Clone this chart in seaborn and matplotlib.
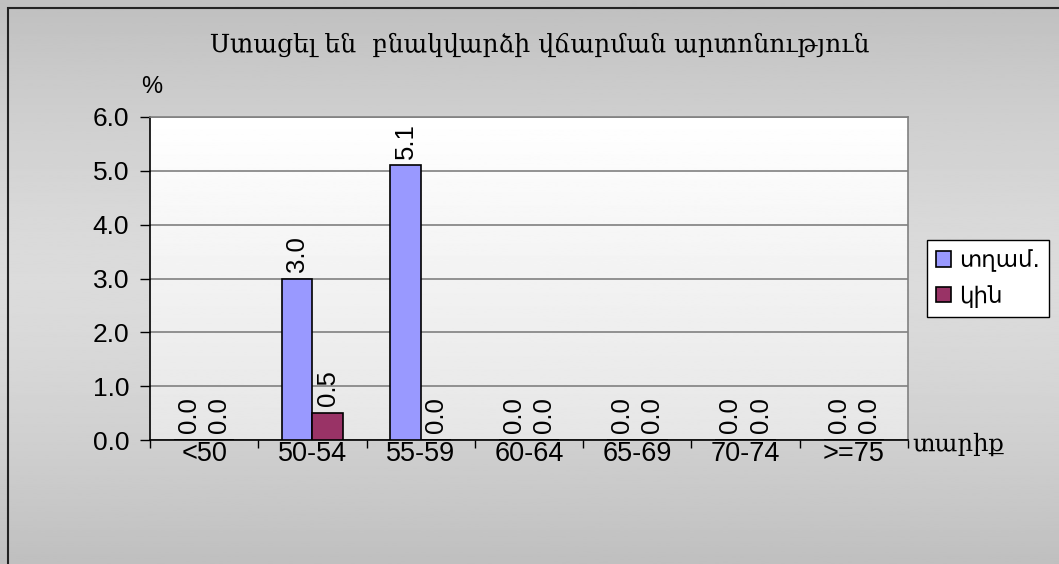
import numpy as np
import pandas as pd
import matplotlib
matplotlib.use("Agg")
import matplotlib.pyplot as plt
from matplotlib.patches import Rectangle
from matplotlib.ticker import FixedLocator, FormatStrFormatter
import seaborn as sns

# data
age_groups = ["<50", "50-54", "55-59", "60-64", "65-69", "70-74", ">=75"]
men = [0.0, 3.0, 5.1, 0.0, 0.0, 0.0, 0.0]
women = [0.0, 0.5, 0.0, 0.0, 0.0, 0.0, 0.0]
series_names = ["տղամ.", "կին"]
series_colors = ["#9999FF", "#993366"]
title = "Ստացել են  բնակվարձի վճարման արտոնություն"

df = pd.DataFrame({
    "age": age_groups * 2,
    "value": men + women,
    "sex": [series_names[0]] * len(men) + [series_names[1]] * len(women),
})

sns.set_style("white")
plt.rcParams["font.family"] = ["Liberation Sans", "DejaVu Sans"]
plt.rcParams["text.color"] = "black"
plt.rcParams["xtick.color"] = "black"
plt.rcParams["ytick.color"] = "black"

fig = plt.figure(figsize=(10.59, 5.64), dpi=100)

# outer gradient background
bg = fig.add_axes([0, 0, 1, 1], zorder=-10)
g = np.abs(np.linspace(-1, 1, 256)) ** 1.5
bg.imshow((0.86 - 0.11 * g)[:, None], cmap="gray", vmin=0, vmax=1,
          aspect="auto", extent=[0, 1, 0, 1])
bg.set_axis_off()
fig.patches.append(Rectangle((8 / 1059, -0.05), 1.1, 1 - 8 / 564 + 0.05,
                             transform=fig.transFigure, fill=False,
                             edgecolor="#222222", linewidth=1.5))

ax = fig.add_axes([150 / 1059, 1 - 440 / 564, 758 / 1059, 323 / 564])
grad = np.linspace(1.0, 0.9, 256)[:, None]
ax.imshow(grad, cmap="gray", vmin=0, vmax=1, aspect="auto",
          extent=[0, 1, 0, 1], transform=ax.transAxes, zorder=0)

sns.barplot(data=df, x="age", y="value", hue="sex", hue_order=series_names,
            palette=series_colors, width=0.56, edgecolor="black",
            linewidth=1.2, saturation=1, ax=ax, zorder=3)

for c in ax.containers:
    ax.bar_label(c, fmt="%.1f", rotation=90, padding=5, fontsize=18.5,
                 color="black")

ax.set_xlim(-0.5, len(age_groups) - 0.5)
ax.set_ylim(0, 6)
ax.set_yticks(np.arange(0, 6.01, 1.0))
ax.yaxis.set_major_formatter(FormatStrFormatter("%.1f"))
ax.grid(axis="y", color="#808080", linewidth=1.2, zorder=1)
ax.set_axisbelow(True)
ax.tick_params(axis="y", labelsize=19, length=7, width=1, color="black",
               direction="out", left=True, pad=8)
ax.tick_params(axis="x", which="major", labelsize=19.5, length=0, pad=1)
ax.xaxis.set_minor_locator(FixedLocator(np.arange(-0.5, len(age_groups), 1)))
ax.tick_params(axis="x", which="minor", length=6, width=1, color="black",
               direction="out", bottom=True)
ax.set_xlabel("")
ax.set_ylabel("")
for s in ["left", "bottom"]:
    ax.spines[s].set_color("black")
    ax.spines[s].set_linewidth(1.2)
for s in ["top", "right"]:
    ax.spines[s].set_color("#808080")
    ax.spines[s].set_linewidth(1.2)

handles, labels = ax.get_legend_handles_labels()
leg = ax.legend(handles, labels, loc="upper left",
                bbox_to_anchor=(927 / 1059, 1 - 240 / 564),
                bbox_transform=fig.transFigure, borderaxespad=0,
                frameon=True, fancybox=False,
                edgecolor="black", facecolor="white", framealpha=1,
                prop={"family": ["DejaVu Sans"], "size": 16.5},
                handlelength=0.65, handleheight=0.65,
                handletextpad=0.35, borderpad=0.4, labelspacing=0.55)

fig.text(540 / 1059, 1 - 45 / 564, title, ha="center", va="center",
         fontsize=18, family=["DejaVu Serif", "DejaVu Sans"])
fig.text(152 / 1059, 1 - 87 / 564, "%", ha="center", va="center", fontsize=17)
fig.text(912 / 1059, 1 - 444 / 564, "տարիք", ha="left", va="center",
         fontsize=17.5, family=["DejaVu Serif", "DejaVu Sans"])

fig.savefig("out.png", dpi=100)
